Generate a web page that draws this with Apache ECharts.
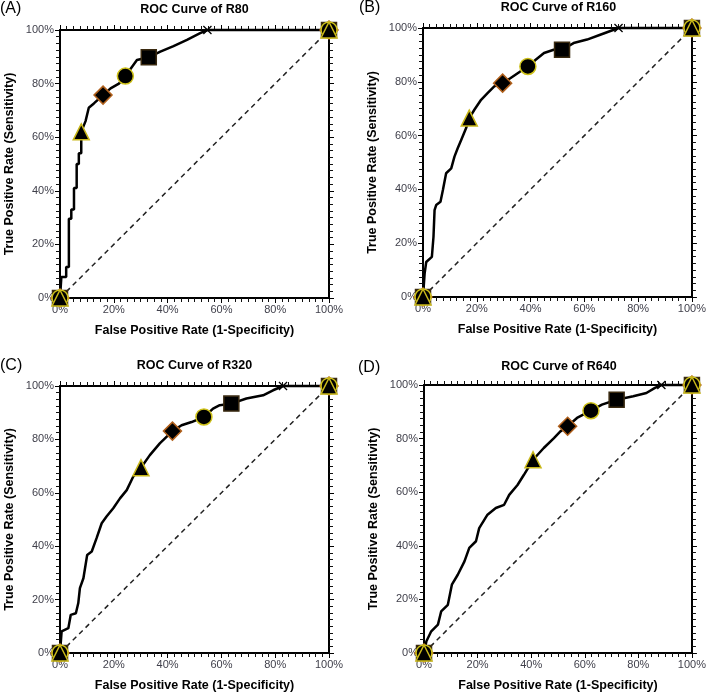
<!DOCTYPE html>
<html>
<head>
<meta charset="utf-8">
<script src="https://cdn.jsdelivr.net/npm/echarts@6/dist/echarts.min.js"></script>
<style>
  html, body { margin: 0; padding: 0; background: #fff; }
  #chart { width: 709px; height: 697px; }
</style>
</head>
<body>
<div id="chart"></div>
<script>
// ROC curves, values in percent (x = false positive rate, y = true positive rate)
const fprA = [0, 0.5, 0.5, 2.3, 2.3, 3.3, 3.3, 4.2, 4.2, 5.2, 5.2, 6.2, 6.2, 7.0, 7.0, 7.9, 7.9, 9.5, 10.7, 12.6, 16, 18.8, 21.9, 24.3, 26.8, 28.6, 33, 37.3, 42.2, 47.2, 52.1, 54.8, 100];
const tprA = [0, 0, 7.8, 7.8, 11.6, 11.6, 29.6, 29.6, 33, 33, 41, 41, 50, 50, 54, 54, 62, 66, 71, 72.6, 75.7, 78.2, 80, 82.8, 86.3, 88.8, 89.8, 91.9, 94, 96.3, 98.8, 100, 100];

const fprB = [0, 0.6, 1.2, 3.3, 3.9, 4.3, 4.9, 6.5, 7.4, 8.6, 10.5, 11.7, 12.9, 14.2, 16, 17.2, 19.1, 21.6, 24, 26.5, 29.6, 32.6, 36.3, 39, 41.9, 45, 48.6, 51.7, 56, 61, 65.9, 72.7, 100];
const tprB = [0, 8.7, 13, 14.9, 22.4, 32.3, 34.2, 35.4, 39.8, 46, 47.8, 52.2, 55.3, 58.4, 62.7, 66.5, 69.6, 73.3, 75.8, 78.3, 79.5, 81.4, 83.9, 85.7, 88.2, 90.7, 91.9, 91.9, 94.4, 95.7, 97.5, 100, 100];

const fprC = [0, 0.6, 3.1, 4, 5.9, 6.8, 7.4, 8.7, 10.1, 11.8, 13.6, 15.5, 17.3, 19.8, 22.3, 24.8, 27.2, 30.1, 33.4, 37.1, 41.8, 45.2, 48.9, 53.5, 56.9, 59.4, 63.7, 69.3, 75.5, 79.2, 82.9, 100];
const tprC = [0, 8.1, 9.3, 14.3, 14.9, 18.7, 24.3, 28, 36.7, 38, 43, 48.6, 51.1, 54.2, 57.9, 61, 66, 69.4, 74.1, 78.5, 83.1, 85.3, 86.5, 88.4, 91.5, 92.8, 93.4, 95.3, 96.5, 98.4, 100, 100];

const fprD = [0, 0.9, 2.7, 5.2, 6.4, 8.9, 10.4, 12.6, 15.1, 16.9, 19.4, 20.6, 23.7, 26.8, 29.9, 31.8, 34.9, 37.3, 40.7, 44.7, 48.5, 50.9, 53.6, 57.1, 62.3, 66.4, 71.9, 78.1, 83, 86.2, 88.6, 100];
const tprD = [0, 4.4, 8.1, 10.6, 15.5, 18, 25.5, 29.2, 34.2, 39.2, 41.7, 46.6, 51.6, 54.1, 55.3, 59, 62.7, 66.5, 72.1, 76.5, 80.2, 82.7, 84.6, 87.7, 90.4, 92.7, 94.5, 95.8, 97, 98.9, 100, 100];

// highlighted cut-off points per panel [fpr, tpr]
const trianglePts = [[7.9, 62], [17.2, 66.5], [30.1, 69.4], [40.7, 72.1]];
const diamondPts  = [[16, 75.7], [29.6, 79.5], [41.8, 83.1], [53.6, 84.6]];
const circlePts   = [[24.3, 82.8], [39, 85.7], [53.5, 88.4], [62.3, 90.4]];
const squarePts   = [[33, 89.8], [51.7, 91.9], [63.7, 93.4], [71.9, 94.5]];
const crossPts    = [[54.8, 100], [72.7, 100], [82.9, 100], [88.6, 100]];

const panelLetters = ['(A)', '(B)', '(C)', '(D)'];
const panelTitles = ['ROC Curve of R80', 'ROC Curve of R160', 'ROC Curve of R320', 'ROC Curve of R640'];
const xName = 'False Positive Rate (1-Specificity)';
const yName = 'True Positive Rate (Sensitivity)';

const curves = [[fprA, tprA], [fprB, tprB], [fprC, tprC], [fprD, tprD]];

const grids = [
    { left: 60, top: 30, width: 269, height: 268 },
    { left: 423, top: 28, width: 271, height: 269 },
    { left: 60, top: 386, width: 269, height: 267 },
    { left: 424, top: 385, width: 270, height: 268 }
];
const titleTops = [3, 1, 359, 360];
const letterPos = [[0, 1], [359, 0], [0, 358], [358, 360]];

const FONT = 'Liberation Sans';
const CROSS = 'path://M0,1L1,0L5,4L9,0L10,1L6,5L10,9L9,10L5,6L1,10L0,9L4,5Z';

function makeAxis(kind, pos, gridIndex, showLabel, name) {
    const ax = {
        type: 'value',
        gridIndex: gridIndex,
        position: pos,
        min: 0,
        max: 100,
        interval: 20,
        axisLine: { show: true, onZero: false, lineStyle: { color: '#000', width: 2 } },
        axisTick: { show: true, inside: false, length: 5, lineStyle: { color: '#000', width: 1 } },
        minorTick: { show: true, splitNumber: 8, length: 4, lineStyle: { color: '#111', width: 1 } },
        splitLine: { show: false },
        axisLabel: {
            show: showLabel,
            formatter: v => v + '%',
            fontSize: 11,
            color: '#3f3f4a',
            fontFamily: FONT,
            margin: 6
        }
    };
    if (name) {
        ax.name = name;
        ax.nameLocation = 'middle';
        ax.nameGap = kind === 'x' ? 26 : 44;
        ax.nameTextStyle = { fontWeight: 'bold', fontSize: 12.5, color: '#000', fontFamily: FONT };
    }
    return ax;
}

const xAxes = [];
const yAxes = [];
const series = [];
const titles = [];

function markerSeries(i, pts, symbol, size, border, withEnds) {
    const data = withEnds ? [[0, 0], pts[i], [100, 100]] : [pts[i]];
    return {
        type: 'scatter',
        xAxisIndex: 2 * i,
        yAxisIndex: 2 * i,
        symbol: symbol,
        symbolSize: size,
        clip: false,
        z: 5,
        itemStyle: { color: '#000', borderColor: border, borderWidth: border ? 1.5 : 0, opacity: 1 },
        data: data
    };
}

for (let i = 0; i < 4; i++) {
    xAxes.push(makeAxis('x', 'bottom', i, true, xName));
    xAxes.push(makeAxis('x', 'top', i, false, null));
    yAxes.push(makeAxis('y', 'left', i, true, yName));
    yAxes.push(makeAxis('y', 'right', i, false, null));

    const g = grids[i];
    titles.push({
        text: panelTitles[i],
        left: g.left + g.width / 2,
        top: titleTops[i],
        textAlign: 'center',
        padding: 0,
        textStyle: { fontSize: 12.5, fontWeight: 'bold', color: '#000', fontFamily: FONT }
    });
    titles.push({
        text: panelLetters[i],
        left: letterPos[i][0],
        top: letterPos[i][1],
        padding: 0,
        textStyle: { fontSize: 16, fontWeight: 'normal', color: '#000', fontFamily: FONT }
    });

    // chance line
    series.push({
        type: 'line',
        xAxisIndex: 2 * i,
        yAxisIndex: 2 * i,
        data: [[0, 0], [100, 100]],
        showSymbol: false,
        lineStyle: { color: '#222', width: 1.5, type: [5, 4] },
        z: 2
    });

    const [fx, ty] = curves[i];
    series.push({
        type: 'line',
        xAxisIndex: 2 * i,
        yAxisIndex: 2 * i,
        data: fx.map((v, k) => [v, ty[k]]),
        showSymbol: false,
        clip: false,
        lineStyle: { color: '#000', width: 2.5 },
        z: 3
    });

    series.push(markerSeries(i, squarePts, 'rect', 15, '#3a2a10', true));
    series.push(markerSeries(i, diamondPts, 'diamond', 18, '#b0601c', true));
    series.push(markerSeries(i, circlePts, 'circle', 16, '#cfc21a', true));
    series.push(markerSeries(i, trianglePts, 'triangle', 16, '#c9b81a', true));
    series.push(markerSeries(i, crossPts, CROSS, 9, null, false));
}

const chart = echarts.init(document.getElementById('chart'));
chart.setOption({
    animation: false,
    backgroundColor: '#fff',
    title: titles,
    grid: grids,
    xAxis: xAxes,
    yAxis: yAxes,
    series: series
});
</script>
</body>
</html>
